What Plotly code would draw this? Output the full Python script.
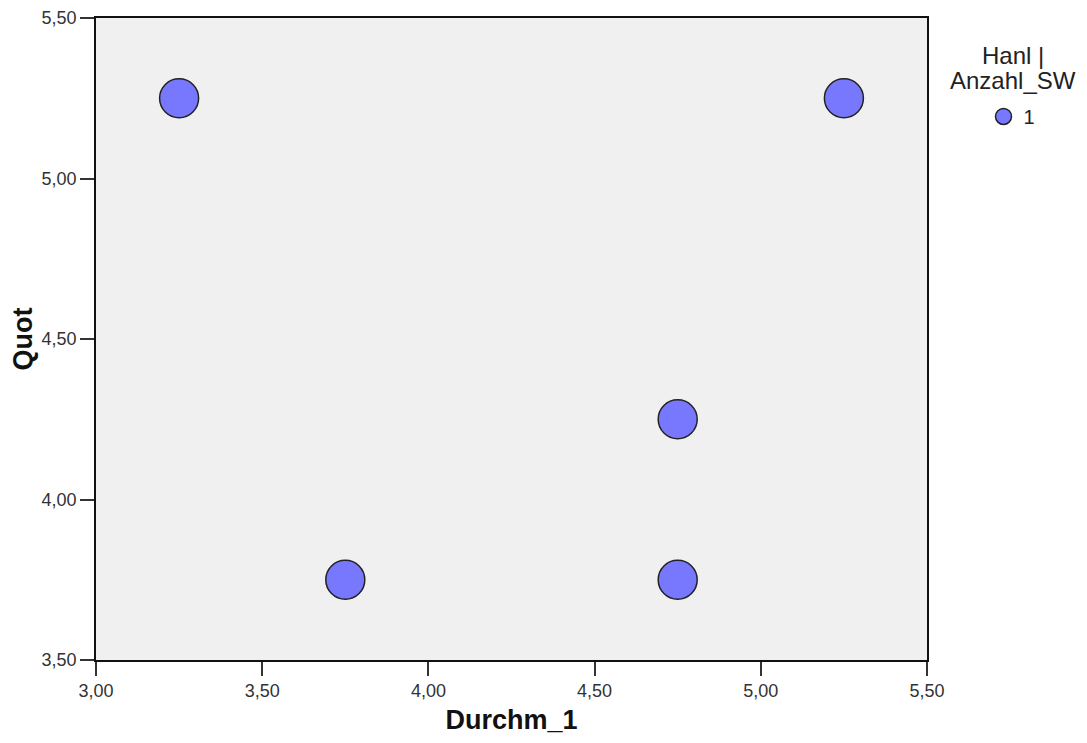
import plotly.graph_objects as go

durchm_1 = [3.25, 3.75, 4.75, 4.75, 5.25]
quot = [5.25, 3.75, 4.25, 3.75, 5.25]
x_ticks = [3.0, 3.5, 4.0, 4.5, 5.0, 5.5]
y_ticks = [3.5, 4.0, 4.5, 5.0, 5.5]
legend_name = "1"
legend_title_lines = ["Hanl |", "Anzahl_SW"]

FONT = "Liberation Sans, Arial, sans-serif"


def main():
    fig = go.Figure()
    fig.add_trace(go.Scatter(
        x=durchm_1, y=quot, mode="markers", name=legend_name,
        marker=dict(size=39, color="#7878FF", line=dict(color="#222222", width=1.5)),
    ))

    axis_font = dict(family=FONT, size=18, color="#333333")
    title_font = dict(family=FONT, size=27, color="#111111")

    fig.update_xaxes(
        range=[3.0, 5.5], tickvals=x_ticks, tickformat=".2f", automargin=False,
        ticklabeloverflow="allow",
        showgrid=False, zeroline=False, showline=True, linecolor="#111111", linewidth=1.5,
        mirror=True, ticks="outside", ticklen=14, tickcolor="#333333", tickwidth=1.5,
        tickfont=axis_font, title=dict(text="<b>Durchm_1</b>", font=title_font, standoff=10),
    )
    fig.update_yaxes(
        range=[3.5, 5.5], tickvals=y_ticks, tickformat=".2f", automargin=False,
        ticklabeloverflow="allow",
        showgrid=False, zeroline=False, showline=True, linecolor="#111111", linewidth=1.5,
        mirror=True, ticks="outside", ticklen=14, tickcolor="#333333", tickwidth=1.5,
        tickfont=axis_font, title=dict(text="<b>Quot</b>", font=title_font, standoff=10),
    )

    # legend title as two lines, SPSS spaces them tighter than plotly does
    title_annots = []
    for line, ypos in zip(legend_title_lines, [0.942, 0.902]):
        title_annots.append(dict(
            text=line, xref="paper", yref="paper", x=1.104, y=ypos,
            xanchor="center", yanchor="middle", showarrow=False,
            font=dict(family=FONT, size=24, color="#222222"),
        ))

    # page body has an 8px margin, so the figure is sized to fit inside the window
    fig.update_layout(
        width=1071, height=727, separators=",.",
        margin=dict(l=88, r=152, t=10, b=75, autoexpand=False),
        plot_bgcolor="#F0F0F0", paper_bgcolor="white",
        showlegend=True,
        legend=dict(x=1.068, y=0.877, xanchor="left", yanchor="top", itemsizing="trace",
                    font=dict(family=FONT, size=20, color="#222222"),
                    itemwidth=30, tracegroupgap=0),
        annotations=title_annots,
    )
    fig.write_html("out.html")


if __name__ == "__main__":
    main()
